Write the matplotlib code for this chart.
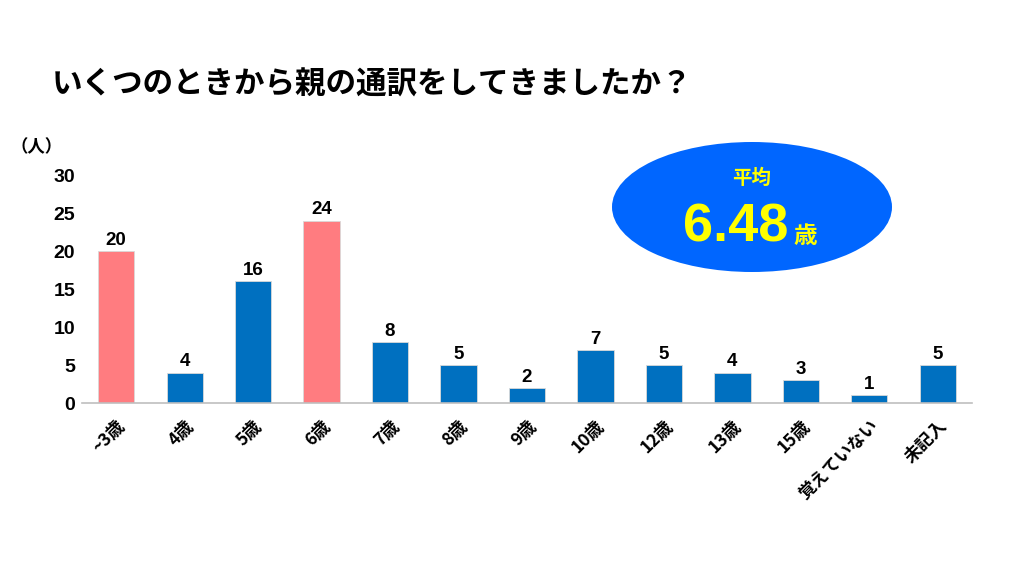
import matplotlib
matplotlib.use("Agg")
import matplotlib.pyplot as plt
from matplotlib.patches import Ellipse

plt.rcParams['font.family'] = ['Noto Sans CJK JP', 'DejaVu Sans']

categories = ["~3歳", "4歳", "5歳", "6歳", "7歳", "8歳", "9歳", "10歳", "12歳", "13歳", "15歳", "覚えていない", "未記入"]
values = [20, 4, 16, 24, 8, 5, 2, 7, 5, 4, 3, 1, 5]
highlight = [True, False, False, True, False, False, False, False, False, False, False, False, False]
yticks = [0, 5, 10, 15, 20, 25, 30]
title = "いくつのときから親の通訳をしてきましたか？"
unit_label = "（人）"
avg_label = "平均"
avg_value = "6.48"
avg_unit = "歳"

pink = "#FF7C80"
blue = "#0070C0"

fig = plt.figure(figsize=(10.24, 5.76), dpi=100)
ax = fig.add_axes([82/1024, 1-403/576, 890/1024, 228/576])

colors = [pink if h else blue for h in highlight]
x = list(range(len(categories)))
bars = ax.bar(x, values, width=0.53, color=colors, edgecolor="#D9D9D9", linewidth=0.6)
for xi, v in zip(x, values):
    ax.text(xi, v + 0.3, str(v), ha="center", va="bottom", fontsize=13.5, fontweight="bold",
            family=['Liberation Sans', 'DejaVu Sans'])

ax.set_xlim(-0.5, len(categories) - 0.5)
ax.set_ylim(0, 30)
ax.set_yticks(yticks)
ax.set_yticklabels([str(t) for t in yticks], fontsize=14, fontweight="bold",
                   family=['Liberation Sans', 'DejaVu Sans'])
ax.set_xticks(x)
ax.set_xticklabels(categories, rotation=45, ha="right", va="top", rotation_mode="anchor",
                   fontsize=12.5, fontweight="bold")
ax.tick_params(axis="both", length=0)
ax.tick_params(axis="y", pad=5)
ax.tick_params(axis="x", pad=10)
for s in ["top", "right", "left"]:
    ax.spines[s].set_visible(False)
ax.spines["bottom"].set_color("#BFBFBF")
ax.spines["bottom"].set_linewidth(1.2)

fig.text(52/1024, 1-85/576, title, fontsize=22, fontweight="bold", va="center", ha="left")
fig.text(10/1024, 1-147/576, unit_label, fontsize=12.5, fontweight="bold", va="center", ha="left")

e = Ellipse((752/1024, 1-207/576), 280/1024, 130/576, transform=fig.transFigure,
            facecolor="#0066FF", edgecolor="none")
fig.patches.append(e)
fig.text(752/1024, 1-178/576, avg_label, fontsize=14, fontweight="bold", color="#FFFF00",
         ha="center", va="center")
fig.text(736/1024, 1-227/576, avg_value, fontsize=39, fontweight="bold", color="#FFFF00",
         ha="center", va="center", family=['Liberation Sans', 'DejaVu Sans'])
fig.text(805/1024, 1-236/576, avg_unit, fontsize=17, fontweight="bold", color="#FFFF00",
         ha="center", va="center")

fig.savefig("out.png", dpi=100)
